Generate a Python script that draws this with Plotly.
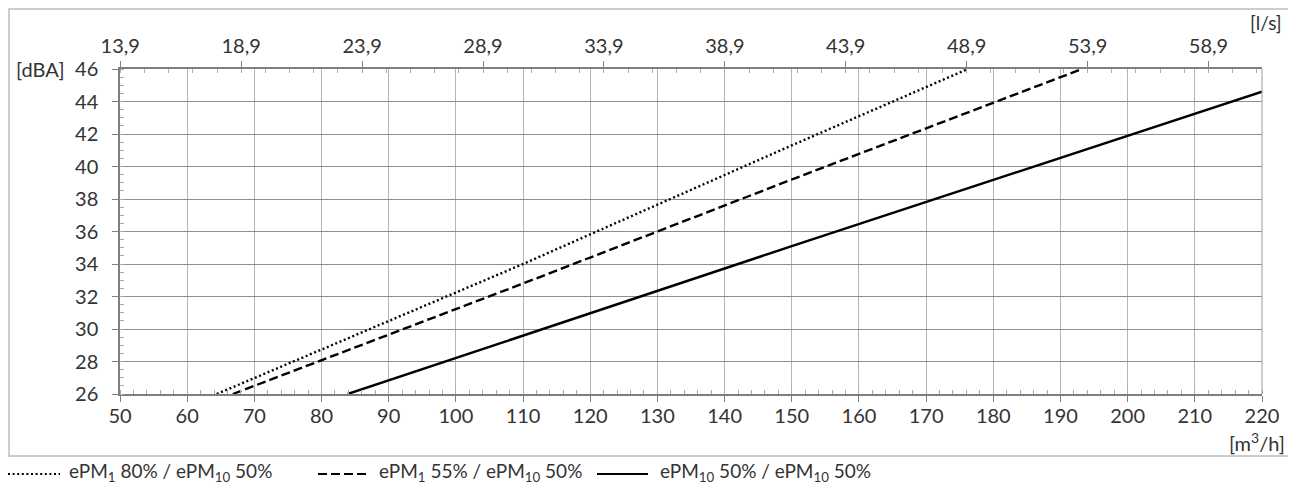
import numpy as np
import plotly.graph_objects as go

# ---- data ----
series_names = [
    "ePM<sub>1</sub> 80% / ePM<sub>10</sub> 50%",
    "ePM<sub>1</sub> 55% / ePM<sub>10</sub> 50%",
    "ePM<sub>10</sub> 50% / ePM<sub>10</sub> 50%",
]
dotted_flow = [64.4, 110, 150, 176.2]
dotted_dba = [26.0, 34.0, 41.3, 46.0]
dashed_flow = [66.8, 110, 150, 193.2]
dashed_dba = [26.0, 32.8, 39.2, 46.0]
solid_flow = [83.9, 150, 220]
solid_dba = [26.0, 35.1, 44.6]

x_ticks = [50, 60, 70, 80, 90, 100, 110, 120, 130, 140, 150, 160, 170, 180, 190, 200, 210, 220]
y_ticks = [26, 28, 30, 32, 34, 36, 38, 40, 42, 44, 46]
ls_ticks = [13.9, 18.9, 23.9, 28.9, 33.9, 38.9, 43.9, 48.9, 53.9, 58.9]
ls_labels = ["13,9", "18,9", "23,9", "28,9", "33,9", "38,9", "43,9", "48,9", "53,9", "58,9"]

FONT = "Lato"
TXT = "#333333"
AX = "#7f7f7f"
FS = 20

dash_styles = ["2px,2.6px", "9px,4px", "solid"]
series = [(dotted_flow, dotted_dba), (dashed_flow, dashed_dba), (solid_flow, solid_dba)]

fig = go.Figure()
for (fx, fy), name, dash in zip(series, series_names, dash_styles):
    fig.add_trace(go.Scatter(x=fx, y=fy, mode="lines", name=name,
                             line=dict(color="black", width=2.4, dash=dash),
                             showlegend=False, cliponaxis=True))

# dummy trace so that the top (l/s) axis is drawn
fig.add_trace(go.Scatter(x=[x_ticks[0] / 3.6, x_ticks[-1] / 3.6], y=[y_ticks[0], y_ticks[0]],
                         xaxis="x2", mode="lines", line=dict(width=0, color="rgba(0,0,0,0)"),
                         showlegend=False, hoverinfo="skip"))

# page body has an 8px margin: screen coordinate = figure coordinate + 8
OFF = 8
W, H = 1296, 490
L, R, T, B = 112, 42, 61, 104
pw, ph = W - L - R, H - T - B

def px(xs):
    return (xs - OFF - L) / pw

def py(ys):
    return (H - B - (ys - OFF)) / ph

fig.update_layout(
    width=W, height=H,
    margin=dict(l=L, r=R, t=T, b=B),
    plot_bgcolor="white", paper_bgcolor="white",
    font=dict(family=FONT, size=FS, color=TXT),
    showlegend=False,
    xaxis=dict(range=[x_ticks[0], x_ticks[-1]], tickvals=x_ticks, ticks="outside", ticklen=6,
               tickcolor=AX, showgrid=True, gridcolor="#b5b5b5", gridwidth=1,
               showline=True, linecolor=AX, linewidth=1.5, zeroline=False,
               tickfont=dict(size=FS, color=TXT), ticklabelstandoff=-3,
               minor=dict(dtick=2, ticks="inside", ticklen=4, tickcolor="#aaaaaa", showgrid=False)),
    xaxis2=dict(overlaying="x", side="top", range=[x_ticks[0] / 3.6, x_ticks[-1] / 3.6],
                tickvals=ls_ticks, ticktext=ls_labels, ticks="outside", ticklen=6, tickcolor=AX,
                showgrid=False, showline=True, linecolor=AX, linewidth=1.8, zeroline=False,
                tickfont=dict(size=FS, color=TXT),
                minor=dict(dtick=1, tick0=13.9, ticks="inside", ticklen=4, tickcolor="#aaaaaa")),
    yaxis=dict(range=[y_ticks[0], y_ticks[-1]], tickvals=y_ticks, ticks="outside", ticklen=6,
               tickcolor=AX, showgrid=True, gridcolor="#8f8f8f", gridwidth=1,
               showline=True, linecolor=AX, linewidth=1.5, zeroline=False,
               tickfont=dict(size=FS, color=TXT), ticklabelstandoff=10,
               minor=dict(dtick=0.5, ticks="inside", ticklen=4, tickcolor="#aaaaaa", showgrid=False)),
)

# right border of plotting area
fig.add_shape(type="line", xref="paper", yref="paper", x0=1, x1=1, y0=0, y1=1,
              line=dict(color="#9a9a9a", width=1))

# outer frame
fig.add_shape(type="rect", xref="paper", yref="paper",
              x0=px(OFF + 1), x1=px(1290), y0=py(456), y1=py(OFF + 1),
              line=dict(color="#bdbdbd", width=1.5), layer="below")

# unit labels
fig.add_annotation(text="[dBA]", xref="paper", yref="paper", x=px(67), y=1,
                   xanchor="right", yanchor="middle", showarrow=False,
                   font=dict(size=FS, color=TXT))
fig.add_annotation(text="[l/s]", xref="paper", yref="paper", x=px(1284), y=py(22),
                   xanchor="right", yanchor="middle", showarrow=False,
                   font=dict(size=19, color=TXT))
fig.add_annotation(text="[m<sup>3</sup>/h]", xref="paper", yref="paper", x=px(1287), y=py(442),
                   xanchor="right", yanchor="middle", showarrow=False,
                   font=dict(size=FS, color=TXT))

# manual legend
leg_items = [(8, 60, 67), (318, 370, 377), (597, 648, 658)]
for (x0, x1, xt), name, dash in zip(leg_items, series_names, dash_styles):
    fig.add_shape(type="line", xref="paper", yref="paper", x0=px(x0), x1=px(x1),
                  y0=py(474), y1=py(474),
                  line=dict(color="black", width=2 if dash != "solid" else 1.8, dash=dash))
    fig.add_annotation(text=name, xref="paper", yref="paper", x=px(xt), y=py(472),
                       xanchor="left", yanchor="middle", showarrow=False,
                       font=dict(size=19, color=TXT))

fig.write_html("out.html")
